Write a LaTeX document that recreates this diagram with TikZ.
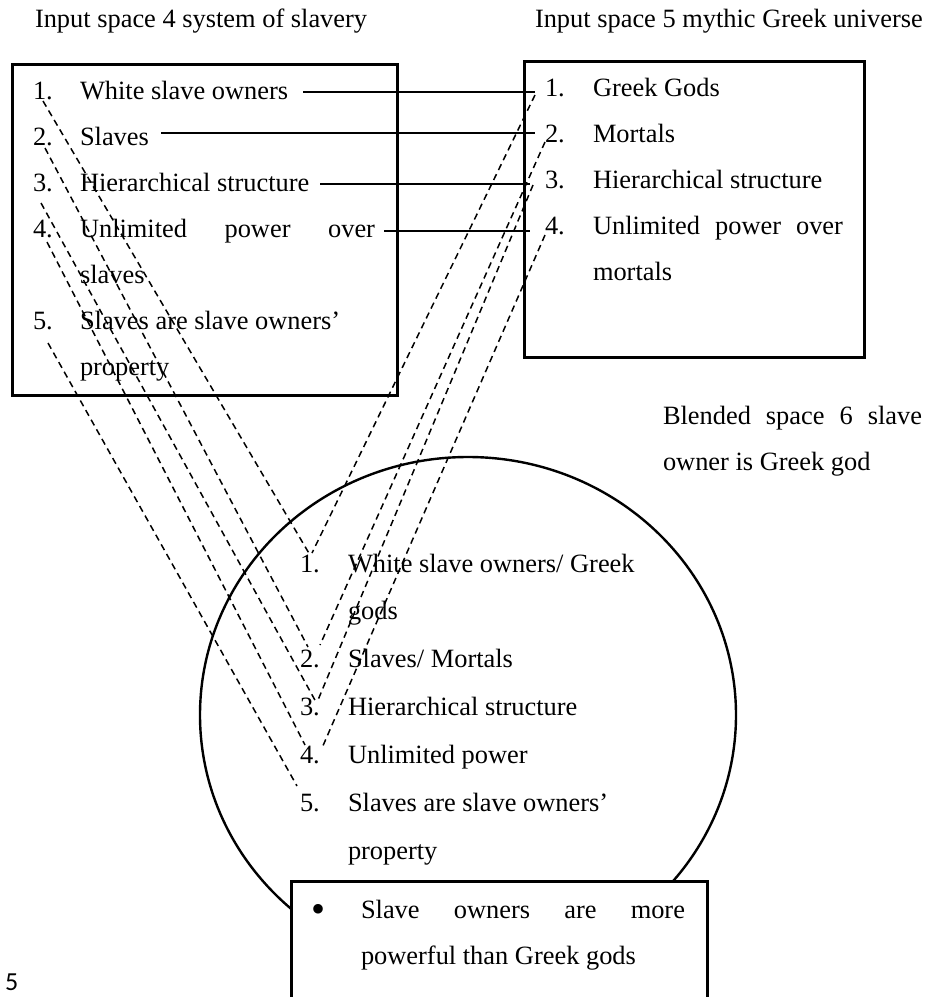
\documentclass[tikz,border=0pt]{standalone}
\usepackage{fontspec}
\setmainfont{Liberation Serif}
\newfontfamily\pagenumfont{Carlito}
\begin{document}
\begin{tikzpicture}[x=1pt,y=-1pt,
  txt/.style={anchor=base west,inner sep=0pt,outer sep=0pt,font=\fontsize{26.4}{30}\selectfont},
  frame/.style={line width=3pt},
  ring/.style={line width=2.4pt},
  link/.style={line width=1.3pt},
  dlink/.style={line width=1.5pt,dash pattern=on 6.5pt off 4.5pt}]
\useasboundingbox (0,0) rectangle (940,997);
\clip (0,0) rectangle (940,997);

% blended space
\draw[ring] (468,715) ellipse [x radius=268, y radius=258];

% headings
\node[txt] (h4) at (35,27) {Input space 4 system of slavery};
\node[txt] (h5) at (535,27) {Input space 5 mythic Greek universe};
\node[txt] (h6a) at (663,424) {\makebox[259pt][s]{Blended space 6 slave}};
\node[txt] (h6b) at (663,470) {owner is Greek god};

% input space 4
\draw[frame] (12,64) rectangle (397,395);
\node[txt] (a1n) at (33,99) {1.};
\node[txt] (a1) at (80,99) {White slave owners};
\node[txt] (a2n) at (33,145) {2.};
\node[txt] (a2) at (80,145) {Slaves};
\node[txt] (a3n) at (33,191) {3.};
\node[txt] (a3) at (80,191) {Hierarchical structure};
\node[txt] (a4n) at (33,237) {4.};
\node[txt] (a4) at (80,237) {\makebox[295pt][s]{Unlimited power over}};
\node[txt] (a4b) at (80,283) {slaves};
\node[txt] (a5n) at (33,329) {5.};
\node[txt] (a5) at (80,329) {Slaves are slave owners’};
\node[txt] (a5b) at (80,375) {property};

% input space 5
\draw[frame] (524,61) rectangle (864,357);
\node[txt] (b1n) at (545,96) {1.};
\node[txt] (b1) at (593,96) {Greek Gods};
\node[txt] (b2n) at (545,142) {2.};
\node[txt] (b2) at (593,142) {Mortals};
\node[txt] (b3n) at (545,188) {3.};
\node[txt] (b3) at (593,188) {Hierarchical structure};
\node[txt] (b4n) at (545,234) {4.};
\node[txt] (b4) at (593,234) {\makebox[250pt][s]{Unlimited power over}};
\node[txt] (b4b) at (593,280) {mortals};

% blended items
\node[txt] (c1n) at (300,572) {1.};
\node[txt] (c1) at (348,572) {White slave owners/ Greek};
\node[txt] (c1b) at (348,619) {gods};
\node[txt] (c2n) at (300,667) {2.};
\node[txt] (c2) at (348,667) {Slaves/ Mortals};
\node[txt] (c3n) at (300,715) {3.};
\node[txt] (c3) at (348,715) {Hierarchical structure};
\node[txt] (c4n) at (300,763) {4.};
\node[txt] (c4) at (348,763) {Unlimited power};
\node[txt] (c5n) at (300,811) {5.};
\node[txt] (c5) at (348,811) {Slaves are slave owners’};
\node[txt] (c5b) at (348,859) {property};

% connector ends
\coordinate (sa1) at (303,92);  \coordinate (sb1) at (535,92);
\coordinate (sa2) at (161,133); \coordinate (sb2) at (535,133);
\coordinate (sa3) at (320,184); \coordinate (sb3) at (530,184);
\coordinate (sa4) at (384,231); \coordinate (sb4) at (530,231);

\coordinate (la1) at (43,101);  \coordinate (lc1) at (310,555);
\coordinate (la2) at (45,148);  \coordinate (lc2) at (308,647);
\coordinate (la3) at (41,203);  \coordinate (lc3) at (316,702);
\coordinate (la4) at (47,242);  \coordinate (lc4) at (305,745);
\coordinate (la5) at (48,343);  \coordinate (lc5) at (297,786);

\coordinate (rb1) at (535,95);  \coordinate (rc1) at (312,553);
\coordinate (rb2) at (545,142); \coordinate (rc2) at (320,645);
\coordinate (rb3) at (533,185); \coordinate (rc3) at (318,700);
\coordinate (rb4) at (545,235); \coordinate (rc4) at (322,748);

% cross-space mappings
\foreach \i in {1,...,4} \draw[link] (sa\i) -- (sb\i);
\foreach \i in {1,...,5} \draw[dlink] (la\i) -- (lc\i);
\foreach \i in {1,...,4} \draw[dlink] (rb\i) -- (rc\i);

% emergent structure
\draw[frame,fill=white] (291,881) rectangle (707,1030);
\node[anchor=base,inner sep=0pt,font=\fontsize{40}{40}\selectfont] (d0) at (318,922) {•};
\node[txt] (d1) at (361,918) {\makebox[324pt][s]{Slave owners are more}};
\node[txt] (d1b) at (361,964) {powerful than Greek gods};

% page number
\node[anchor=base west,inner sep=0pt,font=\pagenumfont\fontsize{26}{30}\selectfont] (pg) at (5,990) {5};
\end{tikzpicture}
\end{document}
